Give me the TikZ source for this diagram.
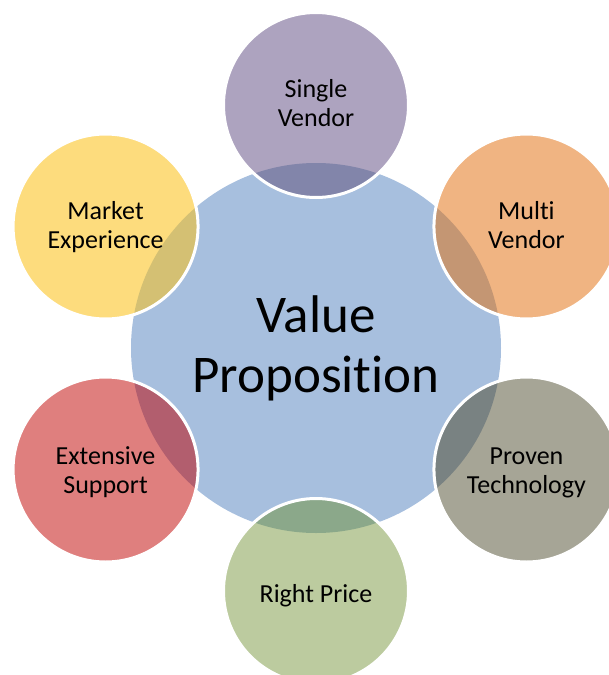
\documentclass[tikz,border=0pt]{standalone}
\usepackage{fontspec}
\usetikzlibrary{calc}
\setmainfont{Carlito}[Ligatures=NoCommon]
\definecolor{cblue}{HTML}{A7BFDE}
\definecolor{csv}{HTML}{ADA3BF}\definecolor{osv}{HTML}{8285AA}
\definecolor{cmv}{HTML}{F0B482}\definecolor{omv}{HTML}{C49673}
\definecolor{cpt}{HTML}{A6A596}\definecolor{opt}{HTML}{798282}
\definecolor{crp}{HTML}{BCCB9F}\definecolor{orp}{HTML}{8BA88A}
\definecolor{ces}{HTML}{DF7F7E}\definecolor{oes}{HTML}{B25E6E}
\definecolor{cme}{HTML}{FDDC7D}\definecolor{ome}{HTML}{D4C073}
\tikzset{
  outer/.style={circle, minimum size=183pt, inner sep=0pt, align=center,
    font=\fontsize{26}{29}\selectfont},
  ring/.style={draw=white, line width=3pt},
}
\begin{document}
\begin{tikzpicture}[x=1pt,y=-1pt]
\useasboundingbox (0,0) rectangle (609,675);
\clip (0,0) rectangle (609,675);
\fill[cblue] (316,348) circle (185);
\coordinate (C) at (316,348);
% outer circles: name, angle, fill, overlap
\foreach \n/\a/\f/\o in {sv/90/csv/osv, mv/30/cmv/omv, pt/-30/cpt/opt, rp/-90/crp/orp, es/210/ces/oes, me/150/cme/ome}{
  \coordinate (\n) at ($(C)+({243*cos(\a)},{-243*sin(\a)})$);
  \fill[\f] (\n) circle (91.5);
  \begin{scope}
    \clip (C) circle (185);
    \fill[\o] (\n) circle (91.5);
  \end{scope}
  \draw[ring] (\n) circle (92.5);
}
\node[outer, yshift=2pt] (nsv) at (sv) {Single\\Vendor};
\node[outer, yshift=1pt] (nmv) at (mv) {Multi\\Vendor};
\node[outer, yshift=-3pt] (npt) at (pt) {Proven\\Technology};
\node[outer, yshift=-5pt] (nrp) at (rp) {Right Price};
\node[outer, yshift=-3pt] (nes) at (es) {Extensive\\Support};
\node[outer, yshift=-1pt] (nme) at (me) {Market\\Experience};
\node[align=center, font=\fontsize{53}{60}\selectfont] (vp) at (C) {Value\\Proposition};
\end{tikzpicture}
\end{document}
